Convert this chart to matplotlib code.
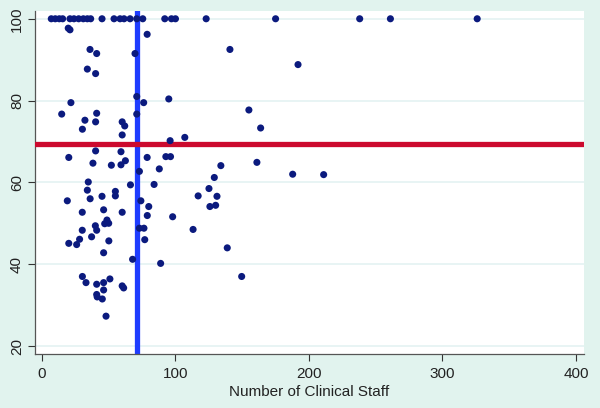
import matplotlib
matplotlib.use("Agg")
import matplotlib.pyplot as plt

# Points at the 100 ceiling
top_x = [7, 10, 13, 15.5, 21, 24, 27.5, 31, 34, 36.5, 45, 54, 58.5, 61.5, 66,
         71, 75.5, 92, 97, 100, 123, 175, 238, 261, 326]
top_y = [100] * len(top_x)

# Remaining points
staff = [19.7, 21, 36, 41, 34, 40.2, 69.7, 78.8, 71, 76.2, 21.7, 14.8, 41, 71, 95,
         32.2, 40.2, 60.1, 62, 30.3, 60.1, 96, 107, 140.8, 191.8, 155, 163.8,
         20.1, 40.2, 59.2, 38.2, 52, 59.2, 62.5, 78.8, 92.8, 96.3, 73, 87.9,
         34.7, 34, 66.3, 84, 19, 36.1, 45, 55, 55, 74.1, 117, 30.2, 46.2, 60.1,
         80, 78.9, 97.9, 40, 48.7, 47, 50, 41, 30.2, 37.2, 73, 76.4, 113.2,
         28.2, 20.1, 26, 50.1, 77, 46.2, 67.9, 88.9, 30.3, 33, 41, 46.2, 50.9,
         41, 41.4, 46.2, 45.2, 60.1, 61.2, 48, 134, 161, 187.8, 211, 129.1,
         125.1, 131.1, 125.8, 130.1, 138.8, 149.6]
score = [97.7, 97.3, 92.5, 91.5, 87.7, 86.6, 91.5, 96.2, 81, 79.5, 79.5, 76.7, 76.9,
         76.7, 80.4, 75.2, 74.8, 74.8, 73.8, 73, 71.6, 70.2, 71, 92.5, 88.8, 77.7,
         73.3, 66.1, 67.7, 67.5, 64.7, 64.2, 64.3, 65.3, 66.1, 66.3, 66.3, 62.7,
         63.3, 60.1, 58.1, 59.4, 59.5, 55.5, 56, 56.6, 57.8, 56.7, 55.5, 56.7,
         52.7, 53.3, 52.7, 54.1, 51.9, 51.6, 49.4, 50.8, 49.9, 50, 48.3, 48.3,
         46.7, 48.8, 48.8, 48.5, 46.1, 45.1, 44.8, 45.7, 46, 42.8, 41.2, 40.2,
         37, 35.5, 35.1, 35.5, 36.4, 32.6, 32, 33.7, 31.5, 34.7, 34.2, 27.3,
         64.1, 64.9, 62, 61.9, 61.2, 58.5, 56.6, 54.1, 54.4, 44, 37]

median_staff = 71
mean_score = 69.5

xticks = [0, 100, 200, 300, 400]
yticks = [20, 40, 60, 80, 100]
xlabel = "Number of Clinical Staff"

plt.rcParams['font.family'] = ['Liberation Sans', 'DejaVu Sans']

bg = '#E1F3EE'
fig = plt.figure(figsize=(6, 4.08), dpi=100, facecolor=bg)
ax = fig.add_axes([35/600, 1-354/408, (584-35)/600, (354-11)/408])
ax.set_facecolor('white')

ax.set_xlim(-5.2, 406)
ax.set_ylim(18.05, 101.9)

for yv in yticks:
    ax.axhline(yv, color='#E4F2F2', lw=1.2, zorder=0.5)

ax.axvline(median_staff, color='#1E3CFF', lw=3.8, zorder=2)
ax.axhline(mean_score, color='#CC0A2E', lw=3.8, zorder=3)

ax.scatter(top_x + staff, top_y + score, s=26, color='#0B1A7E', edgecolors='none', zorder=4,
           clip_on=False)

ax.set_xticks(xticks)
ax.set_yticks(yticks)
ax.tick_params(axis='both', direction='out', length=5, width=0.8, color='#333333',
               labelsize=11, labelcolor='#222222')
ax.tick_params(axis='x', pad=4)
ax.tick_params(axis='y', pad=3)
for lab in ax.get_yticklabels():
    lab.set_rotation(90)
    lab.set_va('center')

ax.set_xlabel(xlabel, fontsize=11, color='#222222', labelpad=3)

for s in ['top', 'right']:
    ax.spines[s].set_visible(False)
for s in ['left', 'bottom']:
    ax.spines[s].set_color('#555555')
    ax.spines[s].set_linewidth(0.9)

fig.savefig('out.png', dpi=100, facecolor=bg)
